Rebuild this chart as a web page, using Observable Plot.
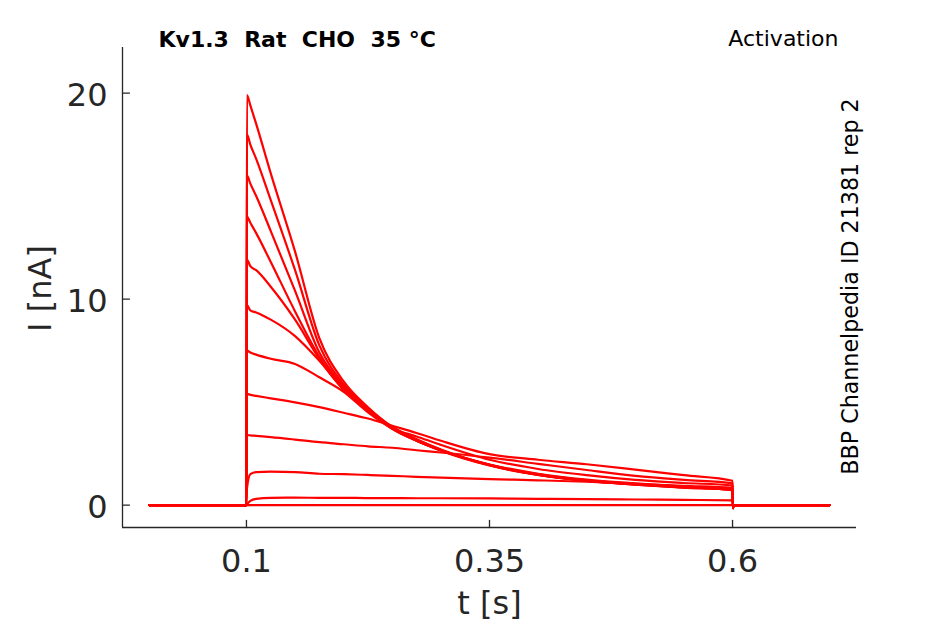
<!DOCTYPE html>
<html><head><meta charset="utf-8">
<script src="https://cdn.jsdelivr.net/npm/d3@7"></script>
<script src="https://cdn.jsdelivr.net/npm/@observablehq/plot@0.6"></script>
<style>body{margin:0;background:#fff} #chart svg{display:block}</style>
</head><body><div id="chart"></div>
<script>
// sample times (s)
const times = [0, 0.1, 0.1005, 0.104, 0.11, 0.125, 0.15, 0.175, 0.2, 0.225, 0.25, 0.275, 0.3, 0.35, 0.4, 0.45, 0.5, 0.55, 0.6, 0.6005, 0.601, 0.7];
// current traces (nA)
const trace1  = [0, 0, 19.9, 19.4, 18.5, 16.1, 12.3, 8.1, 6.0, 4.75, 3.8, 3.2, 2.7, 1.95, 1.48, 1.2, 1.02, 0.88, 0.76, -0.15, 0, 0];
const trace2  = [0, 0, 18.0, 17.5, 16.8, 14.8, 11.4, 7.75, 5.85, 4.7, 3.78, 3.18, 2.68, 1.95, 1.47, 1.18, 1.0, 0.86, 0.74, -0.15, 0, 0];
const trace3  = [0, 0, 16.0, 15.6, 15.0, 13.3, 10.4, 7.4, 5.75, 4.65, 3.75, 3.15, 2.66, 1.93, 1.46, 1.17, 0.99, 0.85, 0.73, -0.15, 0, 0];
const trace4  = [0, 0, 14.0, 13.7, 13.2, 11.8, 9.4, 7.2, 5.65, 4.6, 3.72, 3.12, 2.64, 1.92, 1.46, 1.17, 0.99, 0.85, 0.72, -0.15, 0, 0];
const trace5  = [0, 0, 11.9, 11.6, 11.4, 10.6, 9.0, 7.1, 5.6, 4.6, 3.7, 3.12, 2.65, 1.95, 1.5, 1.2, 1.02, 0.88, 0.76, -0.15, 0, 0];
const trace6  = [0, 0, 9.7, 9.45, 9.35, 9.0, 8.2, 7.0, 5.6, 4.6, 3.7, 3.12, 2.66, 1.97, 1.52, 1.23, 1.05, 0.9, 0.78, -0.15, 0, 0];
const trace7  = [0, 0, 7.5, 7.4, 7.3, 7.1, 6.85, 6.2, 5.5, 4.5, 3.72, 3.33, 2.92, 2.2, 1.75, 1.45, 1.22, 1.07, 0.95, -0.15, 0, 0];
const trace8  = [0, 0, 5.4, 5.35, 5.3, 5.18, 4.98, 4.75, 4.48, 4.2, 3.85, 3.5, 3.12, 2.47, 2.2, 1.98, 1.72, 1.45, 1.18, -0.15, 0, 0];
const trace9  = [0, 0, 3.4, 3.38, 3.36, 3.3, 3.18, 3.05, 2.95, 2.85, 2.78, 2.66, 2.55, 2.3, 2.0, 1.7, 1.42, 1.22, 1.05, -0.15, 0, 0];
const trace10 = [0, 0, 0.8, 1.5, 1.6, 1.62, 1.6, 1.52, 1.5, 1.46, 1.42, 1.37, 1.33, 1.26, 1.2, 1.13, 1.03, 0.93, 0.83, -0.1, 0, 0];
const trace11 = [0, 0, 0.03, 0.2, 0.3, 0.35, 0.36, 0.35, 0.35, 0.34, 0.34, 0.33, 0.33, 0.32, 0.3, 0.29, 0.27, 0.25, 0.23, 0, 0, 0];
const trace12 = [0, 0, 0, 0, 0, 0, 0, 0, 0, 0, 0, 0, 0, 0, 0, 0, 0, 0, 0, 0, 0, 0];
const traces = [trace1, trace2, trace3, trace4, trace5, trace6, trace7, trace8, trace9, trace10, trace11, trace12];

const xTicks = [0.1, 0.35, 0.6];
const yTicks = [0, 10, 20];
const xDomain = [-0.0275, 0.7275];
const yDomain = [-1.09, 22.21];
const titleText = "Kv1.3\u00a0 Rat\u00a0 CHO\u00a0 35 °C";
const protocolText = "Activation";
const sideText = "BBP Channelpedia ID 21381 rep 2";
const xLabel = "t [s]";
const yLabel = "I [nA]";

const rows = traces.flatMap((vals, k) => vals.map((v, i) => ({t: times[i], I: v, trace: k})));

const ink = "#262626";
const tickShape = {draw(ctx, l) { ctx.moveTo(0, 0); ctx.lineTo(0, -l); }};

const plot = Plot.plot({
  width: 945, height: 624,
  marginLeft: 122, marginRight: 89, marginTop: 47, marginBottom: 97,
  style: {fontFamily: "DejaVu Sans", background: "#fff"},
  x: {domain: xDomain},
  y: {domain: yDomain},
  marks: [
    Plot.line(rows, {x: "t", y: "I", z: "trace", stroke: "#ff0000", strokeWidth: 2.2, curve: "monotone-x"}),
    Plot.ruleX([xDomain[0]], {stroke: ink, strokeWidth: 1.3}),
    Plot.ruleY([yDomain[0]], {stroke: ink, strokeWidth: 1.3}),
    Plot.vector(xTicks, {x: d => d, y: yDomain[0], length: 7, rotate: 0, anchor: "start", shape: tickShape, stroke: ink, strokeWidth: 1.3}),
    Plot.vector(yTicks, {x: xDomain[0], y: d => d, length: 7, rotate: 90, anchor: "start", shape: tickShape, stroke: ink, strokeWidth: 1.3}),
    Plot.axisX(xTicks, {tickSize: 0, tickPadding: 22, fontSize: 32, color: ink, label: null, tickFormat: d => String(d)}),
    Plot.axisY(yTicks, {tickSize: 0, tickPadding: 15, fontSize: 32, color: ink, label: null, dy: 3, tickFormat: d => String(d)}),
    Plot.text([titleText], {text: d => d, frameAnchor: "top-left", dx: 36, dy: -1, textAnchor: "start", lineAnchor: "bottom", fontSize: 22, fontWeight: "bold", fill: "#000"}),
    Plot.text([protocolText], {text: d => d, frameAnchor: "top-right", dx: -18, dy: -2, textAnchor: "end", lineAnchor: "bottom", fontSize: 22, fill: "#000"}),
    Plot.text([sideText], {text: d => d, frameAnchor: "right", dx: 1.5, dy: -1, rotate: -90, textAnchor: "middle", lineAnchor: "bottom", fontSize: 22.2, fill: "#000"}),
    Plot.text([yLabel], {text: d => d, frameAnchor: "left", dx: -72, dy: 1, rotate: -90, textAnchor: "middle", lineAnchor: "bottom", fontSize: 32, fill: ink}),
    Plot.text([xLabel], {text: d => d, frameAnchor: "bottom", dy: 86, textAnchor: "middle", lineAnchor: "bottom", fontSize: 32, fill: ink})
  ]
});
document.getElementById("chart").appendChild(plot);
</script>
</body></html>
